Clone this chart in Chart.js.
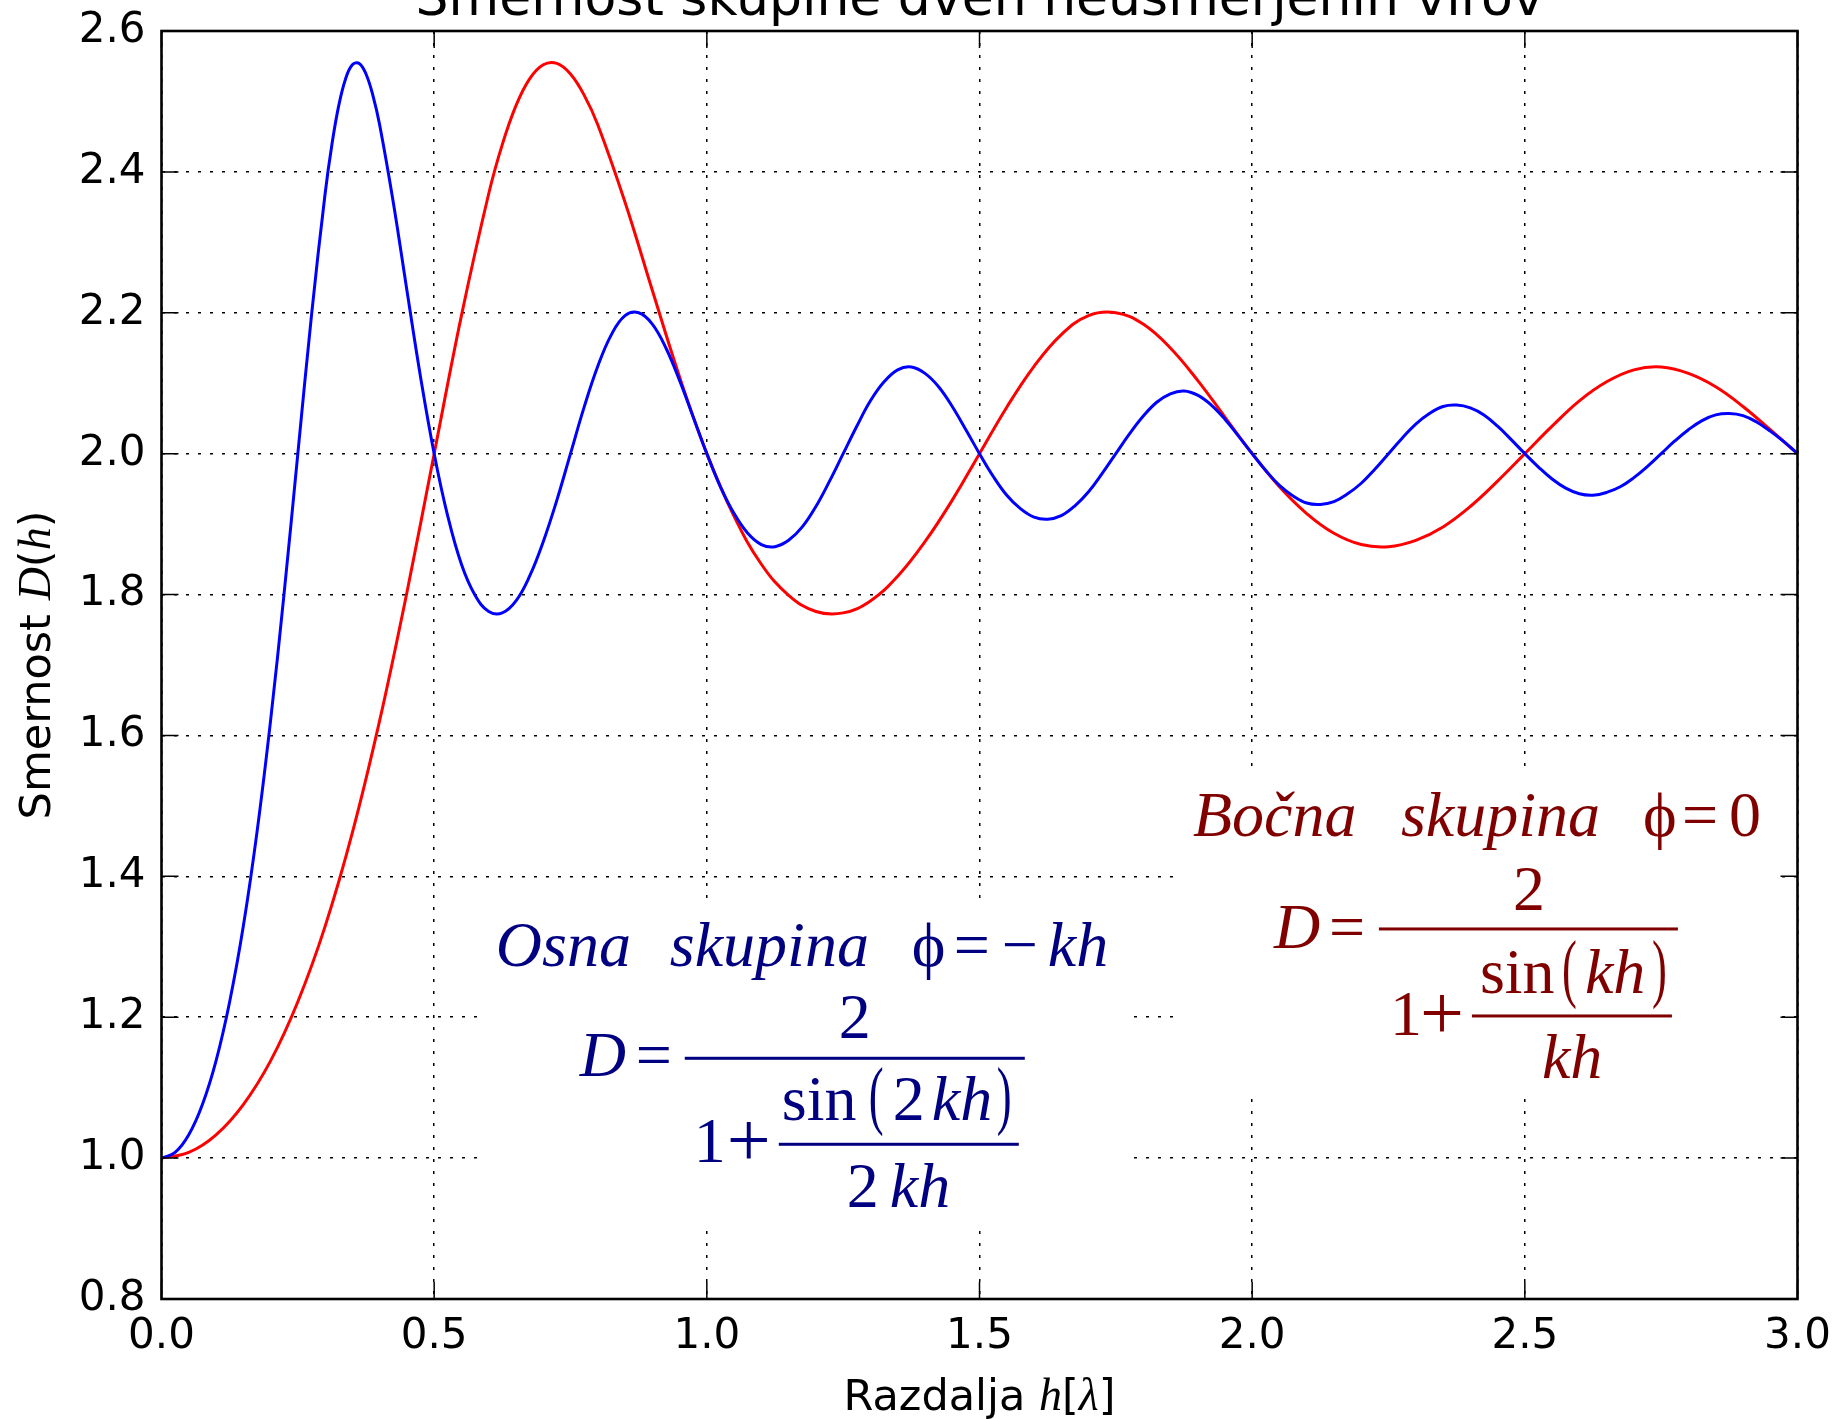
<!DOCTYPE html>
<html>
<head>
<meta charset="utf-8">
<title>Smernost skupine dveh neusmerjenih virov</title>
<script src="https://cdn.jsdelivr.net/npm/chart.js@4.4.1/dist/chart.umd.min.js"></script>
<style>
  html, body { margin: 0; padding: 0; background: #fff; }
  #wrap { width: 1839px; height: 1419px; position: relative; }
</style>
</head>
<body>
<div id="wrap"><canvas id="smernostChart"></canvas></div>
<script>
// razdalja h [lambda] za bocno skupino (gosteje okrog vrha)
var hBocna = [
  0.00, 0.05, 0.10, 0.15, 0.20, 0.25, 0.30, 0.35, 0.40, 0.45, 0.50,
  0.55, 0.60, 0.625, 0.65, 0.675, 0.70, 0.725, 0.75, 0.775, 0.80, 0.85, 0.90, 0.95, 1.00,
  1.05, 1.10, 1.15, 1.20, 1.25, 1.30, 1.35, 1.40, 1.45, 1.50,
  1.55, 1.60, 1.65, 1.70, 1.75, 1.80, 1.85, 1.90, 1.95, 2.00,
  2.05, 2.10, 2.15, 2.20, 2.25, 2.30, 2.35, 2.40, 2.45, 2.50,
  2.55, 2.60, 2.65, 2.70, 2.75, 2.80, 2.85, 2.90, 2.95, 3.00
];

// bocna skupina (rdeca)
var bocnaD = [
  1.000, 1.008, 1.033, 1.076, 1.138, 1.222, 1.329, 1.462, 1.621, 1.803, 2.000,
  2.196, 2.369, 2.439, 2.494, 2.532, 2.552, 2.554, 2.539, 2.509, 2.467, 2.357, 2.232, 2.109, 2.000,
  1.911, 1.843, 1.799, 1.776, 1.774, 1.791, 1.826, 1.875, 1.934, 2.000,
  2.066, 2.124, 2.169, 2.196, 2.200, 2.184, 2.150, 2.104, 2.052, 2.000,
  1.953, 1.915, 1.887, 1.871, 1.868, 1.877, 1.896, 1.925, 1.961, 2.000,
  2.039, 2.075, 2.102, 2.119, 2.123, 2.114, 2.095, 2.067, 2.034, 2.000
];

// razdalja h [lambda] za osno skupino (gostejse tocke, hitrejse nihanje)
var hOsna = [
  0.000, 0.025, 0.050, 0.075, 0.100, 0.125, 0.150, 0.175, 0.200, 0.225, 0.250,
  0.275, 0.300, 0.3125, 0.325, 0.3375, 0.350, 0.3625, 0.375, 0.3875, 0.400,
  0.425, 0.450, 0.475, 0.500,
  0.525, 0.550, 0.575, 0.600, 0.625, 0.650, 0.675, 0.700, 0.725, 0.750,
  0.775, 0.800, 0.825, 0.850, 0.875, 0.900, 0.925, 0.950, 0.975, 1.000,
  1.025, 1.050, 1.075, 1.100, 1.125, 1.150, 1.175, 1.200, 1.225, 1.250,
  1.275, 1.300, 1.325, 1.350, 1.375, 1.400, 1.425, 1.450, 1.475, 1.500,
  1.525, 1.550, 1.575, 1.600, 1.625, 1.650, 1.675, 1.700, 1.725, 1.750,
  1.775, 1.800, 1.825, 1.850, 1.875, 1.900, 1.925, 1.950, 1.975, 2.000,
  2.025, 2.050, 2.075, 2.100, 2.125, 2.150, 2.175, 2.200, 2.225, 2.250,
  2.275, 2.300, 2.325, 2.350, 2.375, 2.400, 2.425, 2.450, 2.475, 2.500,
  2.525, 2.550, 2.575, 2.600, 2.625, 2.650, 2.675, 2.700, 2.725, 2.750,
  2.775, 2.800, 2.825, 2.850, 2.875, 2.900, 2.925, 2.950, 2.975, 3.000
];

// osna skupina (modra)
var osnaD = [
  1.000, 1.008, 1.033, 1.076, 1.138, 1.222, 1.329, 1.462, 1.621, 1.803, 2.000,
  2.196, 2.369, 2.439, 2.494, 2.532, 2.552, 2.554, 2.539, 2.509, 2.467,
  2.357, 2.232, 2.109, 2.000,
  1.911, 1.843, 1.799, 1.776, 1.774, 1.791, 1.826, 1.875, 1.934, 2.000,
  2.066, 2.124, 2.169, 2.196, 2.200, 2.184, 2.150, 2.104, 2.052, 2.000,
  1.953, 1.915, 1.887, 1.871, 1.868, 1.877, 1.896, 1.925, 1.961, 2.000,
  2.039, 2.075, 2.102, 2.119, 2.123, 2.114, 2.095, 2.067, 2.034, 2.000,
  1.968, 1.941, 1.922, 1.910, 1.907, 1.912, 1.926, 1.946, 1.972, 2.000,
  2.028, 2.053, 2.073, 2.085, 2.089, 2.083, 2.069, 2.049, 2.025, 2.000,
  1.976, 1.955, 1.940, 1.930, 1.928, 1.932, 1.943, 1.958, 1.978, 2.000,
  2.022, 2.042, 2.057, 2.067, 2.069, 2.065, 2.055, 2.039, 2.020, 2.000,
  1.981, 1.964, 1.951, 1.943, 1.941, 1.945, 1.953, 1.966, 1.982, 2.000,
  2.018, 2.034, 2.047, 2.055, 2.057, 2.054, 2.045, 2.032, 2.017, 2.000
];

var xTicks = [0.0, 0.5, 1.0, 1.5, 2.0, 2.5, 3.0];
var yTicks = [0.8, 1.0, 1.2, 1.4, 1.6, 1.8, 2.0, 2.2, 2.4, 2.6];

var titleText = 'Smernost skupine dveh neusmerjenih virov';

function toPoints(xs, ys) {
  return xs.map(function (h, i) { return { x: h, y: ys[i] }; });
}

var sans = '"DejaVu Sans", sans-serif';
var serif = '"Liberation Serif", "DejaVu Serif", serif';
var it = 'italic 64px ' + serif;
var up = '64px ' + serif;
var big = '78px ' + serif;
var par = 'paren';

// formula boxes: corners in data units, text offsets in px from box corner
var formulaBoxes = [
  {
    color: '#000080', x0: 0.591, x1: 1.778, y0: 1.366, y1: 0.909,
    parts: [
      ['Osna', 12, 66, it], ['skupina', 186, 66, it], ['\u03d5', 428, 66, up],
      ['=', 470, 66, up], ['\u2212', 518, 66, up], ['kh', 564, 66, it],
      ['D', 96, 176, it], ['=', 152, 176, up],
      ['1', 210, 262, up], ['+', 243, 266, big],
      ['sin', 298, 220, up], ['(', 385, 220, par], ['2', 409, 220, up],
      ['kh', 448, 220, it], [')', 513, 220, par],
      ['2', 363, 307, up], ['kh', 406, 307, it]
    ],
    centered: [['2', 371, 138, up]],
    bars: [[201, 541, 158], [295, 535, 244]]
  },
  {
    color: '#800000', x0: 1.862, x1: 2.961, y0: 1.551, y1: 1.094,
    parts: [
      ['Bo\u010dna', 16, 66, it], ['skupina', 224, 66, it], ['\u03d5', 466, 66, up],
      ['=', 505, 66, up], ['0', 552, 66, up],
      ['D', 97, 178, it], ['=', 152, 178, up],
      ['1', 213, 265, up], ['+', 243, 269, big],
      ['sin', 303, 223, up], ['(', 385, 223, par], ['kh', 408, 223, it],
      [')', 475, 223, par],
      ['kh', 365, 308, it]
    ],
    centered: [['2', 352, 140, up]],
    bars: [[202, 501, 159], [295, 495, 246]]
  }
];

function drawSegments(ctx, segs, cx, y) {
  var total = 0;
  segs.forEach(function (s) { ctx.font = s[1]; total += ctx.measureText(s[0]).width; });
  var x = cx - total / 2;
  segs.forEach(function (s) {
    ctx.font = s[1];
    ctx.fillText(s[0], x, y);
    x += ctx.measureText(s[0]).width;
  });
}

var matplotlibLook = {
  id: 'matplotlibLook',
  beforeDatasetsDraw: function (chart) {
    var ctx = chart.ctx, xs = chart.scales.x, ys = chart.scales.y;
    ctx.save();
    formulaBoxes.forEach(function (b) {
      var left = xs.getPixelForValue(b.x0), right = xs.getPixelForValue(b.x1);
      var top = ys.getPixelForValue(b.y0), bottom = ys.getPixelForValue(b.y1);
      ctx.fillStyle = '#fff';
      ctx.fillRect(left, top, right - left, bottom - top);
      ctx.fillStyle = b.color;
      ctx.textBaseline = 'alphabetic';
      ctx.textAlign = 'left';
      b.parts.forEach(function (p) {
        if (p[3] === 'paren') {
          // tall thin delimiters
          ctx.save();
          ctx.translate(left + p[1], top + p[2]);
          ctx.scale(0.72, 1.22);
          ctx.font = '62px ' + serif;
          ctx.fillText(p[0], 0, 0);
          ctx.restore();
          return;
        }
        ctx.font = p[3];
        ctx.fillText(p[0], left + p[1], top + p[2]);
      });
      ctx.textAlign = 'center';
      b.centered.forEach(function (p) {
        ctx.font = p[3];
        ctx.fillText(p[0], left + p[1], top + p[2]);
      });
      b.bars.forEach(function (r) {
        ctx.fillRect(left + r[0], top + r[2] - 1.5, r[1] - r[0], 3);
      });
    });
    ctx.restore();
  },
  afterDraw: function (chart) {
    var ctx = chart.ctx, a = chart.chartArea, xs = chart.scales.x, ys = chart.scales.y;
    ctx.save();
    // inward ticks on all four sides
    ctx.strokeStyle = '#000';
    ctx.lineWidth = 1.5;
    ctx.beginPath();
    xTicks.forEach(function (v) {
      var px = xs.getPixelForValue(v);
      ctx.moveTo(px, a.bottom); ctx.lineTo(px, a.bottom - 17);
      ctx.moveTo(px, a.top); ctx.lineTo(px, a.top + 17);
    });
    yTicks.forEach(function (v) {
      var py = ys.getPixelForValue(v);
      ctx.moveTo(a.left, py); ctx.lineTo(a.left + 17, py);
      ctx.moveTo(a.right, py); ctx.lineTo(a.right - 17, py);
    });
    ctx.stroke();
    // frame
    ctx.lineWidth = 2.6;
    ctx.strokeRect(a.left, a.top, a.right - a.left, a.bottom - a.top);

    ctx.fillStyle = '#000';
    ctx.textBaseline = 'alphabetic';
    // title (cut at the top edge, as in the original)
    ctx.font = '52px ' + sans;
    ctx.textAlign = 'center';
    ctx.fillText(titleText, (a.left + a.right) / 2, 15);
    ctx.textAlign = 'left';

    // x axis label
    drawSegments(ctx, [
      ['Razdalja ', '43px ' + sans], ['h', 'italic 46px ' + serif],
      ['[', '43px ' + sans], ['\u03bb', 'italic 46px ' + serif], [']', '43px ' + sans]
    ], (a.left + a.right) / 2, 1410);

    // y axis label
    ctx.translate(50, (a.top + a.bottom) / 2);
    ctx.rotate(-Math.PI / 2);
    drawSegments(ctx, [
      ['Smernost ', '43px ' + sans], ['D', 'italic 46px ' + serif],
      ['(', '43px ' + sans], ['h', 'italic 46px ' + serif], [')', '43px ' + sans]
    ], 0, 0);
    ctx.restore();
  }
};

document.addEventListener('DOMContentLoaded', function () {
  Chart.defaults.font.family = sans;
  Chart.defaults.font.size = 42;
  Chart.defaults.color = '#000';

  var ctx = document.getElementById('smernostChart').getContext('2d');
  var smernostChart = new Chart(ctx, {
    type: 'line',
    data: {
      datasets: [{
        label: 'Osna skupina',
        data: toPoints(hOsna, osnaD),
        borderColor: '#0000ff',
        borderWidth: 3,
        pointRadius: 0,
        tension: 0.4,
        fill: false
      }, {
        label: 'Bo\u010dna skupina',
        data: toPoints(hBocna, bocnaD),
        borderColor: '#ff0000',
        borderWidth: 3,
        pointRadius: 0,
        tension: 0.4,
        fill: false
      }]
    },
    options: {
      responsive: true,
      maintainAspectRatio: false,
      animation: false,
      events: [],
      layout: { padding: { top: 31, right: 41.5, left: 0, bottom: 0 } },
      plugins: {
        legend: { display: false },
        title: { display: false },
        tooltip: { enabled: false }
      },
      scales: {
        x: {
          type: 'linear',
          min: 0,
          max: 3,
          afterBuildTicks: function (scale) {
            scale.ticks = xTicks.map(function (v) { return { value: v }; });
          },
          afterFit: function (scale) {
            scale.height = 120;
            scale.paddingLeft = 0;
            scale.paddingRight = 0;
          },
          ticks: {
            padding: 13,
            maxRotation: 0,
            callback: function (v) { return Number(v).toFixed(1); }
          },
          grid: { color: '#000', lineWidth: 1.5, drawTicks: false },
          border: { display: false, dash: [3, 9] }
        },
        y: {
          type: 'linear',
          min: 0.8,
          max: 2.6,
          afterBuildTicks: function (scale) {
            scale.ticks = yTicks.map(function (v) { return { value: v }; });
          },
          afterFit: function (scale) {
            scale.width = 161.5;
            scale.paddingTop = 0;
            scale.paddingBottom = 0;
          },
          ticks: {
            padding: 16,
            callback: function (v) { return Number(v).toFixed(1); }
          },
          grid: { color: '#000', lineWidth: 1.5, drawTicks: false },
          border: { display: false, dash: [3, 9] }
        }
      }
    },
    plugins: [matplotlibLook]
  });
});
</script>
</body>
</html>
